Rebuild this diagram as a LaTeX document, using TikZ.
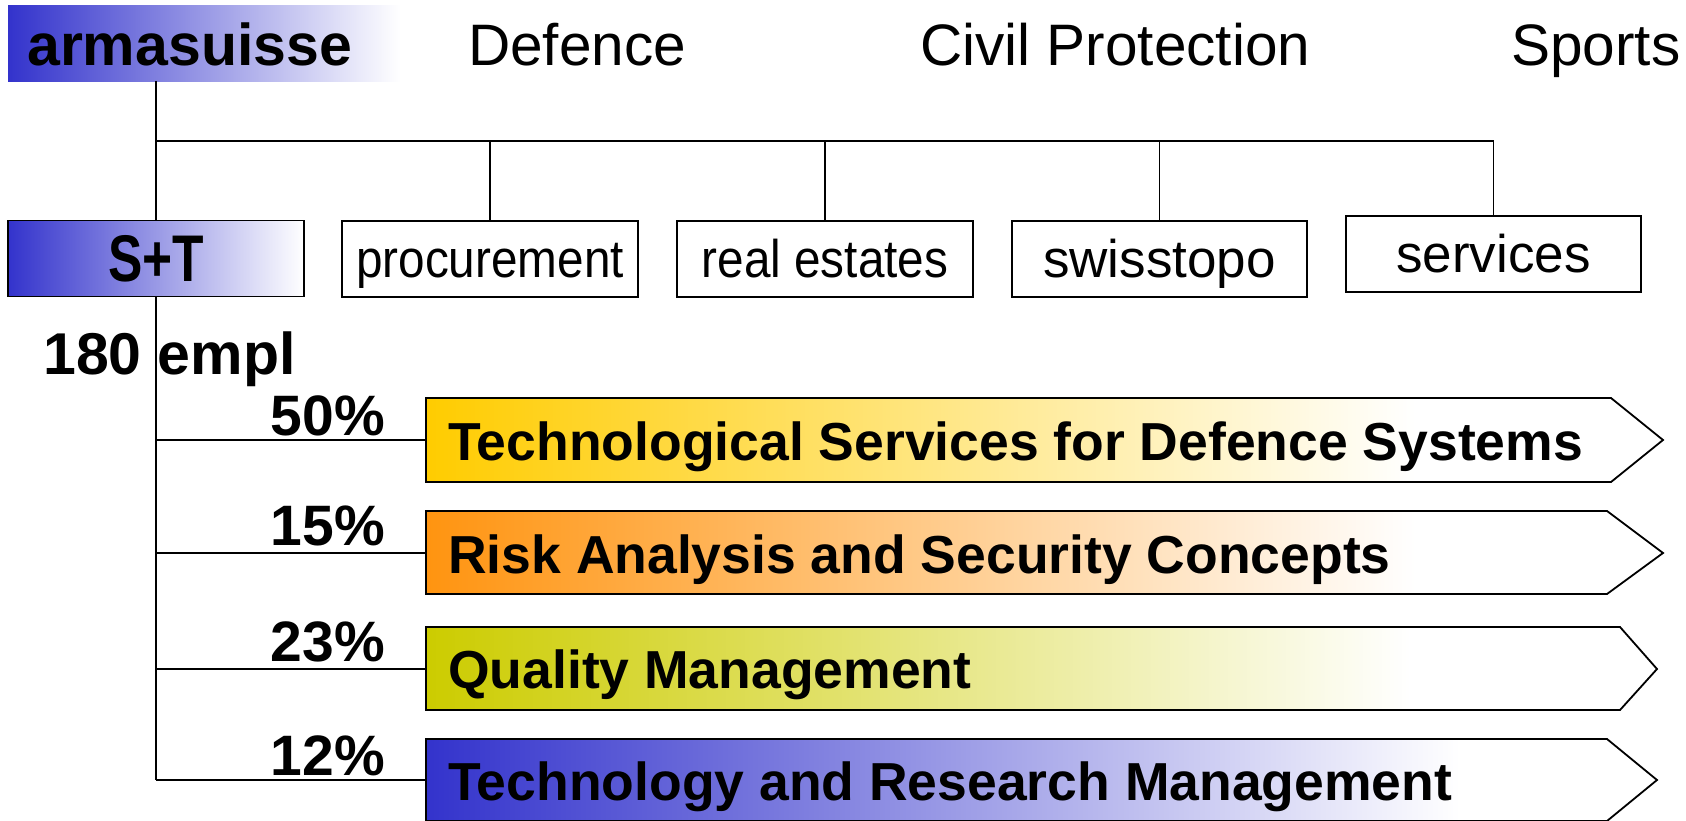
\documentclass[tikz,border=0pt]{standalone}
\usepackage{fontspec}
\setmainfont{Liberation Sans}
\definecolor{stblue}{RGB}{51,51,204}
\definecolor{ayellow}{RGB}{255,204,0}
\definecolor{aorange}{RGB}{255,148,16}
\definecolor{aolive}{RGB}{204,204,0}
\pgfdeclarehorizontalshading{yfade}{100bp}{color(0bp)=(ayellow); color(25bp)=(ayellow); color(65bp)=(white); color(100bp)=(white)}
\pgfdeclarehorizontalshading{ofade}{100bp}{color(0bp)=(aorange); color(25bp)=(aorange); color(65bp)=(white); color(100bp)=(white)}
\pgfdeclarehorizontalshading{lfade}{100bp}{color(0bp)=(aolive); color(25bp)=(aolive); color(65bp)=(white); color(100bp)=(white)}
\pgfdeclarehorizontalshading{bfade}{100bp}{color(0bp)=(stblue); color(25bp)=(stblue); color(67bp)=(white); color(100bp)=(white)}
\begin{document}
\begin{tikzpicture}[x=1pt,y=-1pt,
  conn/.style={draw=black, line width=1.8pt},
  orgbox/.style={draw=black, line width=1.8pt, fill=white, inner sep=0, minimum height=76},
  toplabel/.style={font=\fontsize{58.5}{60}\selectfont, anchor=base west, inner sep=0},
  boxtext/.style={font=\fontsize{53}{60}\selectfont, anchor=base, inner sep=0},
  arrowtext/.style={font=\fontsize{53.5}{60}\selectfont\bfseries, anchor=base west, inner sep=0},
  pct/.style={font=\fontsize{57}{60}\selectfont\bfseries, anchor=base east, inner sep=0},
  arrowbox/.style={draw=black, line width=1.8pt}]
\useasboundingbox (0,0) rectangle (1686,820);
\clip (0,0) rectangle (1686,820);

% armasuisse header
\node[anchor=north west, inner sep=0, minimum width=392, minimum height=76,
      left color=stblue, right color=white] (arma) at (8,5) {};
\node[anchor=base west, inner sep=0, font=\fontsize{59}{60}\selectfont\bfseries] (armatext) at (27,65) {armasuisse};

% top labels
\node[toplabel] (def) at (468,65) {Defence};
\node[toplabel] (civ) at (920,65) {Civil Protection};
\node[toplabel] (spo) at (1511,65) {Sports};

% second row boxes
\node[orgbox, minimum width=296, left color=stblue, right color=white] (st) at (156,258.5) {};
\node[anchor=base, inner sep=0, font=\fontsize{66}{70}\selectfont\bfseries] (sttext) at (156,281) {\scalebox{0.78}[1]{S+T}};
\node[orgbox, minimum width=296] (proc) at (490,259) {};
\node[boxtext] (proctext) at (490,277) {\scalebox{0.9}[1]{procurement}};
\node[orgbox, minimum width=296] (real) at (825,259) {};
\node[boxtext] (realtext) at (825,277) {\scalebox{0.9}[1]{real estates}};
\node[orgbox, minimum width=295] (swiss) at (1159.5,259) {};
\node[boxtext] (swisstext) at (1159.5,277) {swisstopo};
\node[orgbox, minimum width=295] (serv) at (1493.5,254) {};
\node[boxtext] (servtext) at (1493.5,272) {services};

% employees
\node[anchor=base west, inner sep=0, font=\fontsize{59}{60}\selectfont\bfseries] (empl) at (43,374) {180 empl};

% tree connectors
\coordinate (bus) at (156,141);
\draw[conn] (st.north |- arma.south) -- (st.north);
\draw[conn] (bus) -- (bus -| serv.north);
\draw[conn] (bus -| proc.north) -- (proc.north);
\draw[conn] (bus -| real.north) -- (real.north);
\draw[conn] (bus -| swiss.north) -- (swiss.north);
\draw[conn] (bus -| serv.north) -- (serv.north);

% arrow boxes
\path[arrowbox, shading=yfade] (426,398) -- (1611,398) -- (1663,440) -- (1611,482) -- (426,482) -- cycle;
\path[arrowbox, shading=ofade] (426,511) -- (1607,511) -- (1663,553) -- (1607,594) -- (426,594) -- cycle;
\path[arrowbox, shading=lfade] (426,627) -- (1620,627) -- (1657,669) -- (1620,710) -- (426,710) -- cycle;
\path[arrowbox, shading=bfade] (426,739) -- (1607,739) -- (1657,780) -- (1607,821) -- (426,821) -- cycle;
\coordinate (a1) at (426,440);
\coordinate (a2) at (426,553);
\coordinate (a3) at (426,669);
\coordinate (a4) at (426,780);

\node[arrowtext] (t1) at (448,460) {Technological Services for Defence Systems};
\node[arrowtext] (t2) at (448,573) {Risk Analysis and Security Concepts};
\node[arrowtext] (t3) at (448,688) {Quality Management};
\node[arrowtext] (t4) at (448,800) {Technology and Research Management};

\draw[conn] (st.south) -- (st.south |- a4);
\draw[conn] (st.south |- a1) -- (a1);
\draw[conn] (st.south |- a2) -- (a2);
\draw[conn] (st.south |- a3) -- (a3);
\draw[conn] (st.south |- a4) -- (a4);

\node[pct] (p1) at (385,435) {50\%};
\node[pct] (p2) at (385,545) {15\%};
\node[pct] (p3) at (385,661) {23\%};
\node[pct] (p4) at (385,775) {12\%};
\end{tikzpicture}
\end{document}
